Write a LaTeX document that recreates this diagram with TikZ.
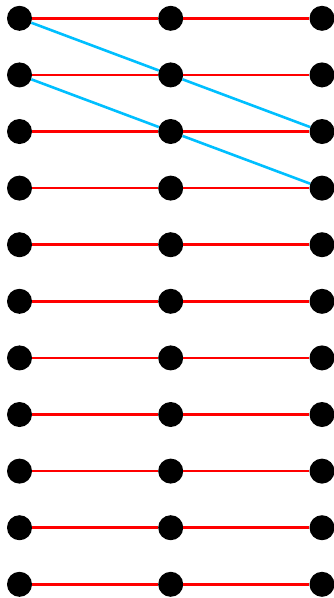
\documentclass[tikz,border=0pt]{standalone}
\begin{document}
\begin{tikzpicture}[x=1pt,y=-1pt,
  dot/.style={circle,fill=black,inner sep=0pt,minimum size=25pt},
  redline/.style={draw={rgb,255:red,255;green,0;blue,0},line width=2.6pt},
  blueline/.style={draw={rgb,255:red,0;green,191;blue,255},line width=2.6pt}]
\useasboundingbox (0,0) rectangle (334,598);
\foreach \i in {0,...,10}{
  \node[dot] (l\i) at (19.5,18.3+56.6*\i) {};
  \node[dot] (m\i) at (170.7,18.3+56.6*\i) {};
  \node[dot] (r\i) at (322,18.3+56.6*\i) {};
}
\foreach \i in {0,...,10}{
  \draw[redline] (l\i) -- (m\i);
  \draw[redline] (m\i) -- (r\i);
}
\draw[blueline] (l0) -- (m1);
\draw[blueline] (m1) -- (r2);
\draw[blueline] (l1) -- (m2);
\draw[blueline] (m2) -- (r3);
\end{tikzpicture}
\end{document}
